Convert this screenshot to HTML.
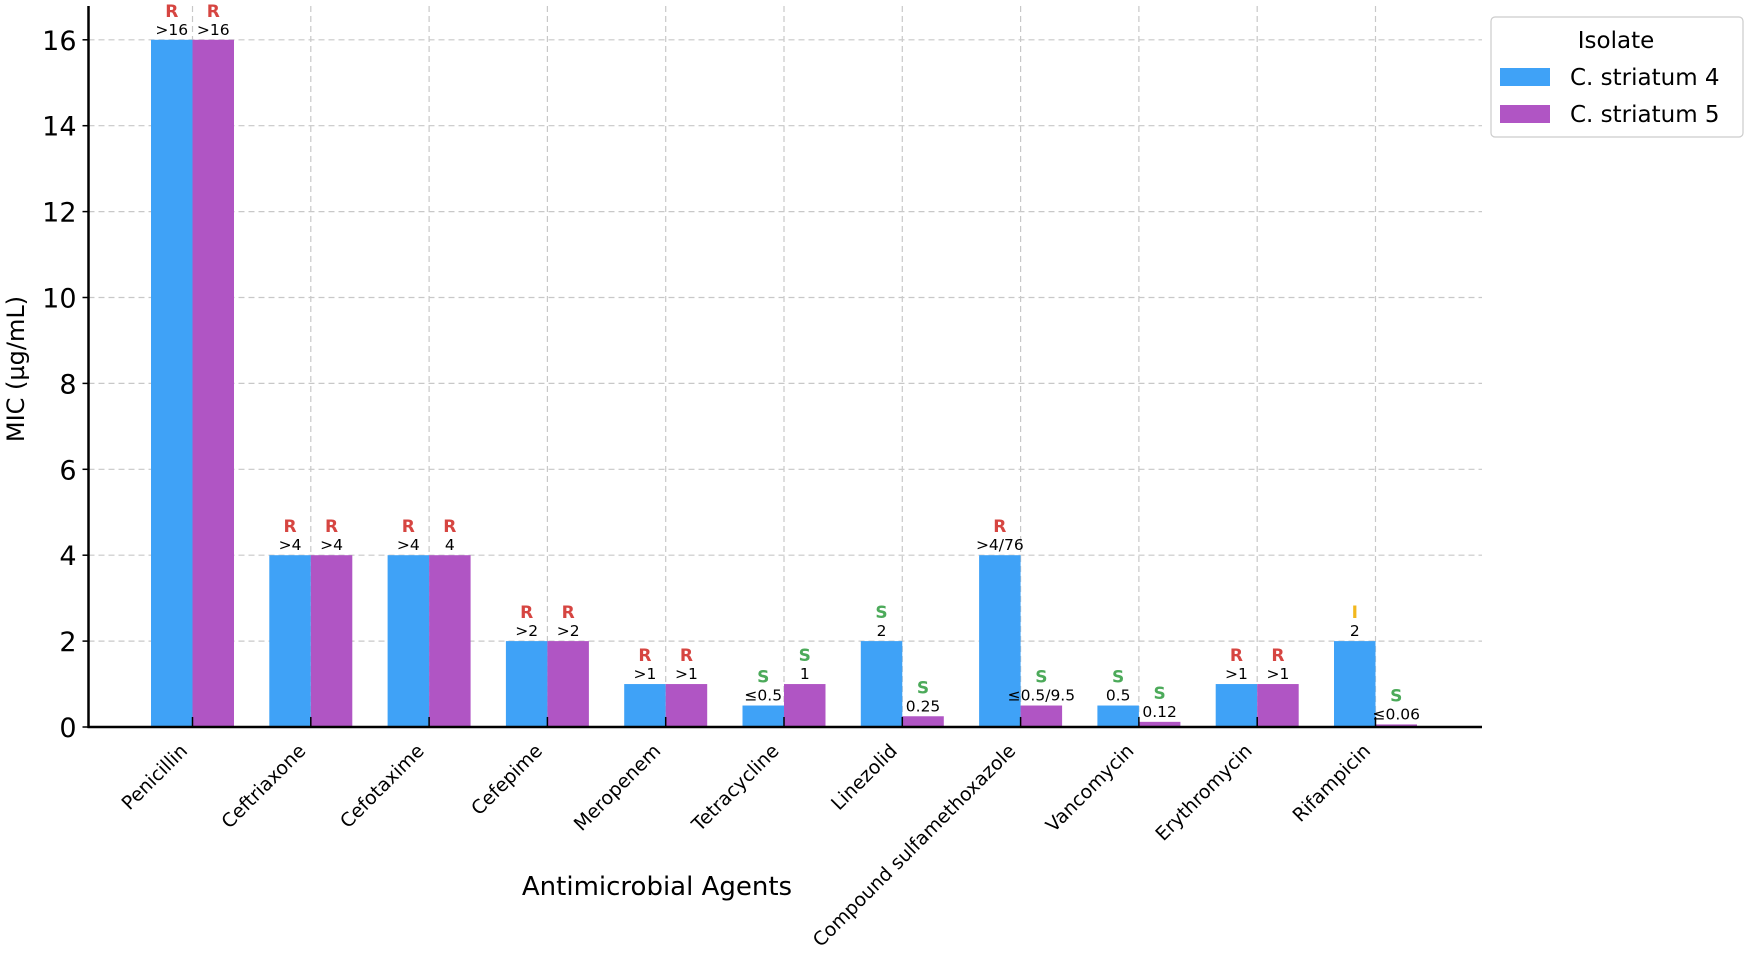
<!DOCTYPE html>
<html><head><meta charset="utf-8"><style>
body{margin:0;background:#fff;}
svg text{font-family:"DejaVu Sans","Liberation Sans",sans-serif;}
</style></head><body>
<svg id="chart" width="1752" height="955" xmlns="http://www.w3.org/2000/svg">
<g id="grid"></g>
<g id="bars"></g>
<g id="labels"></g>
<g id="axes"></g>
<text x="0" y="0" transform="translate(24,369) rotate(-90)" text-anchor="middle" font-size="24">MIC (µg/mL)</text>
<text x="657" y="895" text-anchor="middle" font-size="26">Antimicrobial Agents</text>
<g>
<rect x="1491" y="17" width="252" height="120" rx="4" fill="#fff" stroke="#ccc" stroke-width="1.2"/>
<text x="1616" y="48" text-anchor="middle" font-size="23">Isolate</text>
<rect x="1500" y="68" width="50" height="18" fill="#3fa2f7"/>
<text x="1570" y="85" font-size="23">C. striatum 4</text>
<rect x="1500" y="105" width="50" height="18" fill="#b055c4"/>
<text x="1570" y="122" font-size="23">C. striatum 5</text>
</g>
</svg>
<script>
const categories=["Penicillin","Ceftriaxone","Cefotaxime","Cefepime","Meropenem","Tetracycline","Linezolid","Compound sulfamethoxazole","Vancomycin","Erythromycin","Rifampicin"];
const values4=[16,4,4,2,1,0.5,2,4,0.5,1,2];
const values5=[16,4,4,2,1,1,0.25,0.5,0.12,1,0.06];
const text4=[">16",">4",">4",">2",">1","≤0.5","2",">4/76","0.5",">1","2"];
const text5=[">16",">4","4",">2",">1","1","0.25","≤0.5/9.5","0.12",">1","≤0.06"];
const interp4=["R","R","R","R","R","S","S","R","S","R","I"];
const interp5=["R","R","R","R","R","S","S","S","S","R","S"];
const yTicks=[0,2,4,6,8,10,12,14,16];
const NS="http://www.w3.org/2000/svg";
const X0=88.5,X1=1482,Y0=727,PER=42.95,C0=192.5,STEP=118.3,BW=41.5;
const y=v=>Y0-v*PER;
const xc=i=>C0+i*STEP;
const col={R:"#d64541",S:"#4caa5a",I:"#f2b71d"};
function mk(tag,attrs,parent,txt){const e=document.createElementNS(NS,tag);for(const k in attrs)e.setAttribute(k,attrs[k]);if(txt!==undefined)e.textContent=txt;parent.appendChild(e);return e;}
const grid=document.getElementById('grid'),bars=document.getElementById('bars'),labels=document.getElementById('labels'),axes=document.getElementById('axes');
yTicks.forEach(t=>{
 if(t>0){const l=mk('line',{x1:X0,x2:X1,y1:y(t),y2:y(t),stroke:'#c8c8c8','stroke-dasharray':'6,4','stroke-width':1.2},grid);
 
 }
 const tl=mk('text',{x:X0-12,y:y(t)+10,'text-anchor':'end','font-size':27},axes,String(t));
 
 
 mk('line',{x1:X0-6,x2:X0,y1:y(t),y2:y(t),stroke:'#000','stroke-width':1.5},axes);
});
categories.forEach((c,i)=>{
 const gl=mk('line',{x1:xc(i),x2:xc(i),y1:6,y2:Y0,stroke:'#c8c8c8','stroke-dasharray':'6,4','stroke-width':1.2},grid);
 
 
 [[values4,text4,interp4,'#3fa2f7',-1],[values5,text5,interp5,'#b055c4',0]].forEach((s,k)=>{
  const v=s[0][i],bx=xc(i)+s[4]*BW;
  const r=mk('rect',{x:bx,y:y(v),width:BW,height:Y0-y(v),fill:s[3]},bars);
  
  
  const cx=bx+BW/2;
  const vt=mk('text',{x:cx,y:y(v)-5,'text-anchor':'middle','font-size':15.5},labels,s[1][i]);
  
  
  const it=mk('text',{x:cx,y:y(v)-23,'text-anchor':'middle','font-size':17,'font-weight':'bold',fill:col[s[2][i]]},labels,s[2][i]);
  
  
 });
 mk('line',{x1:xc(i),x2:xc(i),y1:Y0,y2:Y0-10,stroke:'#000','stroke-width':1.5},axes);
 const xl=mk('text',{x:0,y:0,'text-anchor':'end','font-size':19,transform:`translate(${xc(i)-4},${Y0+25}) rotate(-45)`},axes,c);
 
 
});
const ya=mk('line',{x1:X0,x2:X0,y1:6,y2:Y0+1,stroke:'#000','stroke-width':2.5},axes);


const xa=mk('line',{x1:X0-1,x2:X1,y1:Y0,y2:Y0,stroke:'#000','stroke-width':2.5},axes);


</script>
</body></html>
